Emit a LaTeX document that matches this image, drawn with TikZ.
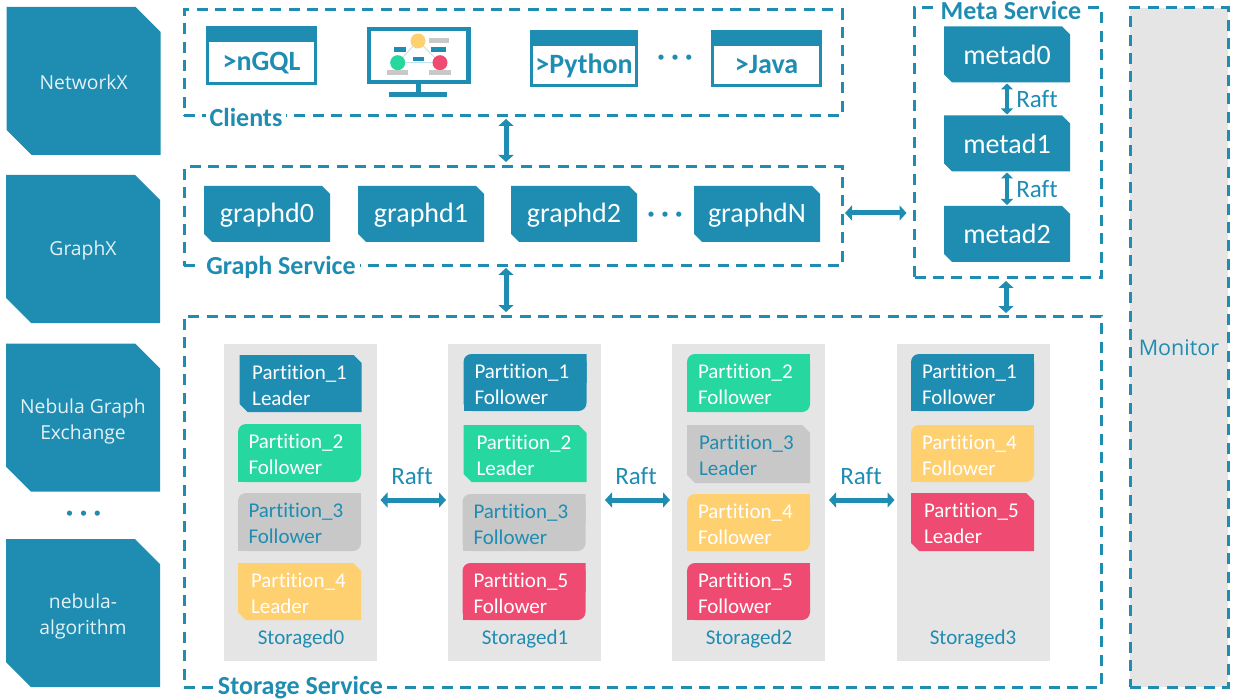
\documentclass[tikz,border=0pt]{standalone}
\usepackage{fontspec}
\setmainfont[Ligatures=NoCommon]{Carlito}
\newfontfamily\thinfont{Open Sans}
\usetikzlibrary{arrows.meta}
\definecolor{nebteal}{HTML}{1F8CB2}
\definecolor{nebgreen}{HTML}{26D7A0}
\definecolor{nebgray}{HTML}{C8C8C8}
\definecolor{nebyellow}{HTML}{FFD070}
\definecolor{nebred}{HTML}{EF4B72}
\definecolor{nebpanel}{HTML}{E5E5E5}
\newcommand{\snipfill}[2]{\fill[#1] (path picture bounding box.north west)
    -- ([xshift=-#2]path picture bounding box.north east) -- ([yshift=-#2]path picture bounding box.north east)
    -- (path picture bounding box.south east) -- ([xshift=#2]path picture bounding box.south west)
    -- ([yshift=#2]path picture bounding box.south west) -- cycle;}
\tikzset{
    snipbox/.style={rectangle, inner sep=0pt, outer sep=0pt, path picture={\snipfill{#1}{8pt}}},
    softbox/.style={rectangle, inner sep=0pt, outer sep=0pt, path picture={
        \fill[#1, rounded corners=8pt] (path picture bounding box.north west) rectangle (path picture bounding box.south east);
        \fill[#1] (path picture bounding box.center) rectangle (path picture bounding box.north east);
        \fill[#1] (path picture bounding box.center) rectangle (path picture bounding box.south west);
    }},
    partsize/.style={minimum width=123pt, minimum height=57pt, inner xsep=11pt, text width=101pt, align=left,
        text=white, font=\fontsize{21}{26}\selectfont, execute at begin node={\rule{0pt}{17.5pt}}},
    svcbox/.style={draw=nebteal, line width=3pt, dash pattern=on 11pt off 7.4pt, inner sep=0pt, outer sep=0pt},
    svclabel/.style={fill=white, text=nebteal, inner xsep=4pt, inner ysep=0pt, font=\fontsize{26}{26}\bfseries\selectfont},
    procbox/.style={snipbox=nebteal, minimum width=126pt, minimum height=56pt, text=white, font=\fontsize{28}{28}\selectfont},
    toolbox/.style={rectangle, inner sep=0pt, outer sep=0pt, path picture={\snipfill{nebteal}{25pt}},
        minimum width=154pt, minimum height=148pt, align=center, text=white!88!nebteal,
        font=\thinfont\fontsize{19.3}{26}\selectfont},
    termbox/.style={draw=nebteal, line width=3pt, inner sep=0pt, outer sep=0pt, text=nebteal, text height=34pt, text depth=4pt,
        font=\fontsize{28}{28}\bfseries\selectfont, path picture={
        \fill[nebteal] (path picture bounding box.north west) rectangle ([yshift=-14pt]path picture bounding box.north east);
    }},
    panelbox/.style={fill=nebpanel, minimum width=153pt, minimum height=317pt, inner sep=0pt, outer sep=0pt},
    storedlabel/.style={text=nebteal, inner sep=0pt, font=\fontsize{21}{21}\selectfont},
    raftlabel/.style={text=nebteal, inner sep=0pt, font=\fontsize{25}{25}\selectfont},
    dotslabel/.style={text=nebteal, inner sep=0pt, font=\fontsize{28}{28}\bfseries\selectfont},
    biarrow/.style={{Triangle[width=15pt,length=7pt]}-{Triangle[width=15pt,length=7pt]}, draw=nebteal, line width=5pt},
    thinarrow/.style={{Triangle[width=12pt,length=6pt]}-{Triangle[width=12pt,length=6pt]}, draw=nebteal, line width=3.5pt},
}
\begin{document}
\begin{tikzpicture}[x=1pt,y=-1pt]
    \useasboundingbox (0,0) rectangle (1238,700);

    % 左侧工具
    \node[toolbox] (networkx) at (83.7,81) {\rule{0pt}{18pt}NetworkX};
    \node[toolbox] (graphx) at (83,249) {\rule{0pt}{18pt}GraphX};
    \node[toolbox] (exchange) at (83,417.5) {\rule{0pt}{22pt}Nebula Graph\\Exchange};
    \node[dotslabel] (tooldots) at (83.5,516) {· · ·};
    \node[toolbox] (algorithm) at (83,613) {\rule{0pt}{22pt}nebula-\\algorithm};

    % --- Clients ---
    \node[svcbox, minimum width=658pt, minimum height=106pt] (clients) at (513,63) {};
    \node[svclabel] (clientslabel) at (246,117) {Clients};
    \node[termbox, minimum width=108pt, minimum height=56pt] (ngql) at (261.5,56) {>nGQL};
    \node[termbox, minimum width=105pt, minimum height=54pt] (python) at (584,59) {>Python};
    \node[termbox, minimum width=108pt, minimum height=54pt] (java) at (766.5,59) {>Java};
    \node[dotslabel] (clientdots) at (675,60) {· · ·};

    % 显示器图标
    \draw[nebteal, line width=4.5pt, fill=white] (369,29.2) rectangle (468.5,81.8);
    \fill[nebteal] (416,83) rectangle (420.7,92);
    \fill[nebteal] (389,92) rectangle (447,97);
    \draw[nebteal!25, line width=1pt] (418,41) -- (397.7,62.7) -- (440,62.7) -- cycle;
    \fill[nebyellow] (418,41) circle (7.5pt);
    \fill[nebgreen] (397.7,62.7) circle (7.5pt);
    \fill[nebred] (440,62.7) circle (7.5pt);
    \fill[nebteal] (394,46.7) rectangle (406,52.3);
    \fill[nebteal] (431,46.7) rectangle (446,52.3);
    \fill[nebteal] (413,57) rectangle (424,61);
    \fill[nebgray] (429,38) rectangle (449,42.7);
    \fill[nebgray] (387,70) rectangle (408,75);
    \fill[nebgray] (429,70) rectangle (451,75);

    % --- Graph Service ---
    \node[svcbox, minimum width=658pt, minimum height=99pt] (graph) at (513,216.5) {};
    \node[svclabel] (graphlabel) at (281,267) {Graph Service};
    \node[procbox] (graphd0) at (267,214) {\rule{0pt}{22pt}graphd0};
    \node[procbox] (graphd1) at (421,214) {\rule{0pt}{22pt}graphd1};
    \node[procbox] (graphd2) at (574,214) {\rule{0pt}{22pt}graphd2};
    \node[procbox] (graphdN) at (757,214) {\rule{0pt}{22pt}graphdN};
    \node[dotslabel] (graphdots) at (665,217) {· · ·};

    % --- Meta Service ---
    \node[svcbox, minimum width=187pt, minimum height=270pt] (meta) at (1008,143) {};
    \node[svclabel] (metalabel) at (1011,10) {Meta Service};
    \node[procbox] (metad0) at (1007,54.5) {metad0};
    \node[procbox] (metad1) at (1007,143.5) {metad1};
    \node[procbox] (metad2) at (1007,234) {metad2};
    \node[raftlabel] (raftm0) at (1037,99) {Raft};
    \node[raftlabel] (raftm1) at (1037,189) {Raft};
    \draw[thinarrow, shorten <=1pt, shorten >=1pt] (metad0) -- (metad1);
    \draw[thinarrow, shorten <=1pt, shorten >=1pt] (metad1) -- (metad2);

    % --- Storage Service ---
    \node[svcbox, minimum width=917pt, minimum height=371pt] (storage) at (642.5,501.5) {};
    \node[svclabel] (storagelabel) at (300.5,687.5) {Storage Service};

    % Storaged0
    \node[panelbox] (stored0) at (300,502.5) {};
    \node[snipbox=nebteal, partsize, minimum width=122pt, inner xsep=12.5pt, text width=97pt] (p01) at (300.7,383.5) {Partition\_1\\Leader};
    \node[softbox=nebgreen, partsize, inner xsep=10.5pt, text width=102pt, minimum height=58pt] (p02) at (299.5,453) {Partition\_2\\Follower};
    \node[softbox=nebgray, partsize, inner xsep=10.5pt, text width=102pt, text=nebteal, minimum height=58pt] (p03) at (299.5,522) {Partition\_3\\Follower};
    \node[snipbox=nebyellow, partsize, inner xsep=13pt, text width=97pt] (p04) at (299.5,591.5) {Partition\_4\\Leader};
    \node[storedlabel] (s0label) at (301,639) {Storaged0};

    % Storaged1
    \node[panelbox] (stored1) at (524.5,502.5) {};
    \node[softbox=nebteal, partsize] (p11) at (525,382.5) {Partition\_1\\Follower};
    \node[snipbox=nebgreen, partsize, inner xsep=13pt, text width=97pt] (p12) at (525,453.5) {Partition\_2\\Leader};
    \node[softbox=nebgray, partsize, text=nebteal] (p13) at (524,522.5) {Partition\_3\\Follower};
    \node[softbox=nebred, partsize] (p15) at (524,591.5) {Partition\_5\\Follower};
    \node[storedlabel] (s1label) at (525,639) {Storaged1};

    % Storaged2
    \node[panelbox] (stored2) at (748.5,502.5) {};
    \node[softbox=nebgreen, partsize, minimum height=58pt] (p22) at (748.5,383) {Partition\_2\\Follower};
    \node[snipbox=nebgray, partsize, text=nebteal, inner xsep=12pt, text width=99pt, minimum height=58pt] (p23) at (748.5,454) {Partition\_3\\Leader};
    \node[softbox=nebyellow, partsize] (p24) at (748.5,522.5) {Partition\_4\\Follower};
    \node[softbox=nebred, partsize] (p25) at (748.5,591.5) {Partition\_5\\Follower};
    \node[storedlabel] (s2label) at (749,639) {Storaged2};

    % Storaged3
    \node[panelbox] (stored3) at (973,502.5) {};
    \node[softbox=nebteal, partsize] (p31) at (972.5,382.5) {Partition\_1\\Follower};
    \node[softbox=nebyellow, partsize] (p34) at (972.5,453.5) {Partition\_4\\Follower};
    \node[snipbox=nebred, partsize, inner xsep=13pt, text width=97pt, minimum height=58pt] (p35) at (972.5,522) {Partition\_5\\Leader};
    \node[storedlabel] (s3label) at (973,639) {Storaged3};

    % Raft 箭头
    \node[raftlabel] (raft0) at (412,476.5) {Raft};
    \node[raftlabel] (raft1) at (636,476.5) {Raft};
    \node[raftlabel] (raft2) at (861,476.5) {Raft};
    \draw[biarrow, shorten <=4pt, shorten >=2pt] ([yshift=2.5pt]stored0.east) -- ([yshift=2.5pt]stored1.west);
    \draw[biarrow, shorten <=4pt, shorten >=2pt] ([yshift=2.5pt]stored1.east) -- ([yshift=2.5pt]stored2.west);
    \draw[biarrow, shorten <=4pt, shorten >=2pt] ([yshift=2.5pt]stored2.east) -- ([yshift=2.5pt]stored3.west);

    % 服务之间的箭头
    \draw[biarrow, shorten <=3pt, shorten >=5pt] ([xshift=-7pt]clients.south) -- ([xshift=-7pt]graph.north);
    \draw[biarrow, shorten <=2pt, shorten >=4pt] ([xshift=-7pt]graph.south) -- ([xshift=-7pt]graph.south |- storage.north);
    \draw[biarrow, shorten <=3pt, shorten >=8pt] ([yshift=3.5pt]graph.east) -- ([yshift=3.5pt]graph.east -| meta.west);
    \draw[biarrow, shorten <=3pt, shorten >=3pt] ([xshift=-2pt]meta.south) -- ([xshift=-2pt]meta.south |- storage.north);

    % --- Monitor ---
    \node[svcbox, fill=nebpanel, minimum width=98pt, minimum height=679pt] (monitor) at (1179,347.5) {};
    \node[text=nebteal, inner sep=0pt, font=\thinfont\fontsize{21.5}{21.5}\selectfont] (monitorlabel) at (1179,348) {Monitor};
\end{tikzpicture}
\end{document}
